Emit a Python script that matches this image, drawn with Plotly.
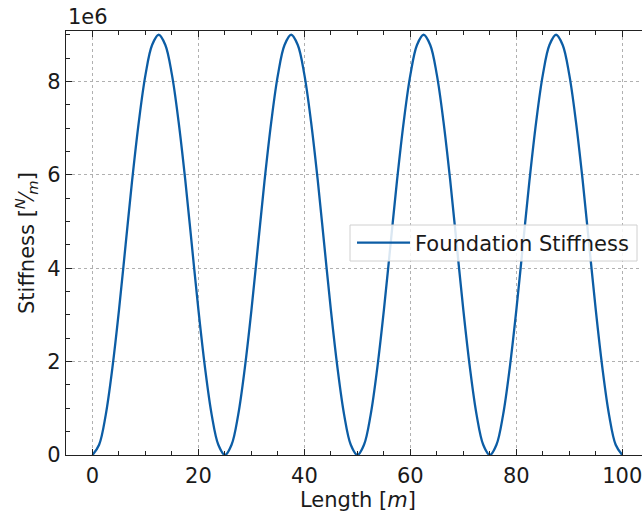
import numpy as np
import plotly.graph_objects as go

# Sampling positions along the beam [m]
length_m = np.arange(0, 100.0001, 1.25)

# Foundation stiffness read at each position, in units of 1e6 N/m
stiffness_mn = [
    0.00, 0.22, 0.86, 1.86, 3.10, 4.50, 5.90, 7.14, 8.14, 8.78, 9.00,
    8.78, 8.14, 7.14, 5.90, 4.50, 3.10, 1.86, 0.86, 0.22, 0.00,
    0.22, 0.86, 1.86, 3.10, 4.50, 5.90, 7.14, 8.14, 8.78, 9.00,
    8.78, 8.14, 7.14, 5.90, 4.50, 3.10, 1.86, 0.86, 0.22, 0.00,
    0.22, 0.86, 1.86, 3.10, 4.50, 5.90, 7.14, 8.14, 8.78, 9.00,
    8.78, 8.14, 7.14, 5.90, 4.50, 3.10, 1.86, 0.86, 0.22, 0.00,
    0.22, 0.86, 1.86, 3.10, 4.50, 5.90, 7.14, 8.14, 8.78, 9.00,
    8.78, 8.14, 7.14, 5.90, 4.50, 3.10, 1.86, 0.86, 0.22, 0.00,
]
stiffness = [v * 1e6 for v in stiffness_mn]

x_ticks = [0, 20, 40, 60, 80, 100]
y_ticks = [0, 2e6, 4e6, 6e6, 8e6]
y_tick_labels = ["0", "2", "4", "6", "8"]

W, H = 642, 511
L, R, T, B = 66, 0, 31, 56
FONT = "DejaVu Sans"
FS = 21
INK = "#1a1a1a"
SPINE = "#222222"
GRID = "#b0b0b0"

fig = go.Figure()
fig.add_trace(go.Scatter(
    x=length_m, y=stiffness, mode="lines",
    line=dict(color="#0C5DA5", width=2.3, shape="spline", smoothing=1.0),
    name="Foundation Stiffness",
))

axis_common = dict(
    ticks="inside", ticklen=6, tickwidth=1, tickcolor=SPINE,
    showline=True, linecolor=SPINE, linewidth=1.3,
    showgrid=True, gridcolor=GRID, griddash="dot", gridwidth=0.8,
    zeroline=False, ticklabeloverflow="allow",
    tickfont=dict(family=FONT, size=FS, color=INK),
)

fig.update_xaxes(
    range=[-5, 103.72], tickvals=x_ticks, mirror="ticks",
    ticklabelstandoff=2,
    minor=dict(ticks="inside", ticklen=3.5, dtick=5, tick0=0, tickcolor=SPINE, showgrid=False),
    **axis_common,
)
fig.update_yaxes(
    range=[0, 9.08e6], tickvals=y_ticks, ticktext=y_tick_labels,
    minor=dict(ticks="inside", ticklen=3.5, dtick=0.5e6, tick0=0, tickcolor=SPINE, showgrid=False),
    **axis_common,
)

pw = W - L - R
ph = H - T - B

def px_x(p):
    return (p - L) / pw

def px_y(p):
    return (H - B - p) / ph

# Legend frame
fig.add_shape(
    type="rect", xref="paper", yref="paper",
    x0=px_x(350), x1=px_x(637), y0=px_y(261), y1=px_y(225),
    fillcolor="rgba(255,255,255,0.85)", line=dict(color="#d0d0d0", width=1),
    layer="above",
)

fig.update_layout(
    width=W, height=H,
    margin=dict(l=L, r=R, t=T, b=B, pad=0),
    paper_bgcolor="white", plot_bgcolor="white",
    showlegend=True,
    legend=dict(
        x=px_x(352), xanchor="left", y=px_y(243), yanchor="middle",
        bgcolor="rgba(0,0,0,0)", borderwidth=0,
        font=dict(family=FONT, size=FS, color=INK),
        itemwidth=53,
    ),
    annotations=[
        dict(text="1e6", xref="paper", yref="paper", x=0, y=1,
             xanchor="left", yanchor="bottom", yshift=0, showarrow=False,
             font=dict(family=FONT, size=FS, color=INK)),
        dict(text="Length [<i>m</i>]", xref="paper", yref="paper",
             x=px_x(357.5), y=px_y(500), xanchor="center", yanchor="middle",
             showarrow=False, font=dict(family=FONT, size=FS, color=INK)),
        dict(text="Stiffness [<sup><i>N</i></sup>\u2044<sub><i>m</i></sub>]",
             xref="paper", yref="paper", x=px_x(26), y=0.5,
             xanchor="center", yanchor="middle", textangle=-90,
             showarrow=False, font=dict(family=FONT, size=FS, color=INK)),
    ],
)

fig.write_html("out.html")
